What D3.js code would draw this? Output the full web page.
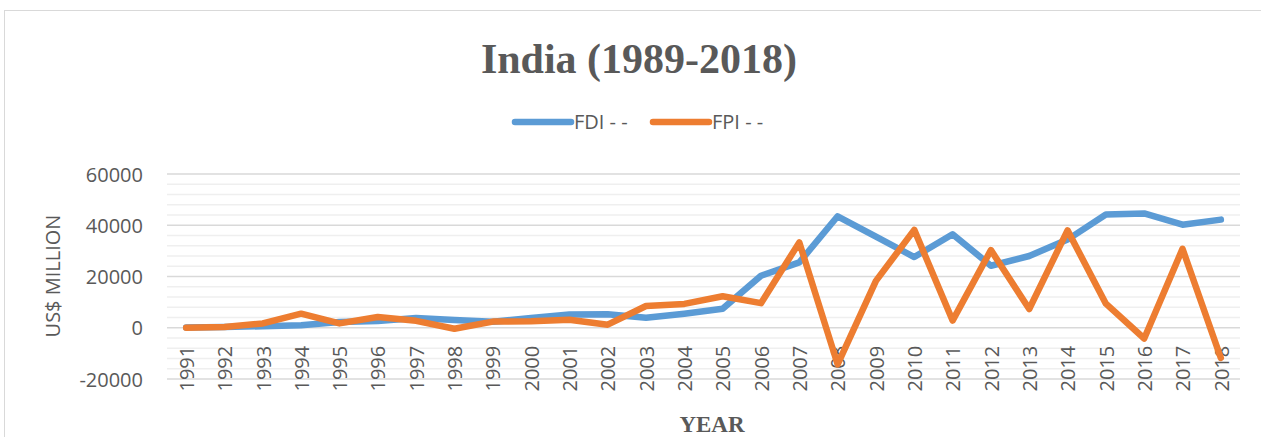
<!DOCTYPE html>
<html>
<head>
<meta charset="utf-8">
<script src="https://cdn.jsdelivr.net/npm/d3@7"></script>
<style>
  body { margin: 0; background: #fff; }
  svg { display: block; }
  .tick text { fill: #595959; font-family: "Open Sans", sans-serif; font-size: 20px; }
</style>
</head>
<body>
<svg id="chart"></svg>
<script>
var width = 1261, height = 437;

// data (US$ million)
var years = [1991, 1992, 1993, 1994, 1995, 1996, 1997, 1998, 1999, 2000,
  2001, 2002, 2003, 2004, 2005, 2006, 2007, 2008, 2009, 2010,
  2011, 2012, 2013, 2014, 2015, 2016, 2017, 2018];
var fdi = [100, 300, 600, 1000, 2200, 2600, 3800, 3000, 2300, 3800,
  5200, 5300, 3900, 5500, 7400, 20300, 25500, 43500, 35600, 27600,
  36500, 24200, 28000, 34400, 44200, 44600, 40200, 42200];
var fpi = [0, 300, 1700, 5500, 1700, 4200, 2700, -400, 2400, 2500,
  3100, 1200, 8500, 9300, 12300, 9600, 33300, -14300, 18300, 38200,
  2800, 30300, 7300, 38000, 9400, -4200, 30800, -11800];
var seriesNames = ["FDI - -", "FPI - -"];
var yTicks = [-20000, 0, 20000, 40000, 60000];

var colors = ["#5b9bd5", "#ed7d31"];

var svg = d3.select("#chart")
  .attr("width", width)
  .attr("height", height);

// chart frame
svg.append("rect")
  .attr("x", 4.5).attr("y", 10.5)
  .attr("width", 1400).attr("height", 600)
  .attr("fill", "#fff")
  .attr("stroke", "#d9d9d9")
  .attr("stroke-width", 1);

var x = d3.scalePoint()
  .domain(years)
  .range([167, 1240])
  .padding(0.5);

var y = d3.scaleLinear()
  .domain([-20000, 60000])
  .range([379, 174]);

// minor gridlines
svg.append("g")
  .selectAll("line")
  .data(d3.range(-20000, 60001, 4000).filter(function(v) { return v % 20000 !== 0; }))
  .enter().append("line")
  .attr("x1", 167).attr("x2", 1240)
  .attr("y1", function(d) { return y(d); })
  .attr("y2", function(d) { return y(d); })
  .attr("stroke", "#efefef")
  .attr("stroke-width", 1.3);

// major gridlines
svg.append("g")
  .selectAll("line")
  .data(yTicks)
  .enter().append("line")
  .attr("x1", 167).attr("x2", 1240)
  .attr("y1", function(d) { return y(d); })
  .attr("y2", function(d) { return y(d); })
  .attr("stroke", "#d9d9d9")
  .attr("stroke-width", 1.3);

// y axis labels
var yAxis = svg.append("g")
  .attr("transform", "translate(167,0)")
  .call(d3.axisLeft(y).tickValues(yTicks).tickSize(0).tickPadding(24)
    .tickFormat(function(d) { return String(d); }));
yAxis.select(".domain").remove();
yAxis.selectAll("text").attr("dy", "0.36em");

// x axis labels (rotated)
var xAxis = svg.append("g")
  .attr("transform", "translate(0," + y(0) + ")")
  .call(d3.axisBottom(x).tickSize(0));
xAxis.select(".domain").remove();
xAxis.selectAll("text")
  .attr("transform", "rotate(-90)")
  .attr("text-anchor", "end")
  .attr("x", -18)
  .attr("y", 0)
  .attr("dy", "0.36em");

// lines
var line = d3.line()
  .x(function(d, i) { return x(years[i]); })
  .y(function(d) { return y(d); });

[fdi, fpi].forEach(function(s, i) {
  svg.append("path")
    .datum(s)
    .attr("fill", "none")
    .attr("stroke", colors[i])
    .attr("stroke-width", 6.5)
    .attr("stroke-linejoin", "round")
    .attr("stroke-linecap", "round")
    .attr("d", line);
});

// title
svg.append("text")
  .attr("x", 639).attr("y", 73)
  .attr("text-anchor", "middle")
  .style("font-family", "'Liberation Serif', 'Times New Roman', serif")
  .style("font-weight", "bold")
  .style("font-size", "42px")
  .style("fill", "#595959")
  .text("India (1989-2018)");

// legend
var legend = svg.append("g");
var legendX = [515, 653];
seriesNames.forEach(function(name, i) {
  legend.append("line")
    .attr("x1", legendX[i]).attr("x2", legendX[i] + 56)
    .attr("y1", 122).attr("y2", 122)
    .attr("stroke", colors[i])
    .attr("stroke-width", 6.5)
    .attr("stroke-linecap", "round");
  legend.append("text")
    .attr("x", legendX[i] + 59).attr("y", 129)
    .style("font-family", "'Open Sans', sans-serif")
    .style("font-size", "20px")
    .style("fill", "#595959")
    .text(name);
});

// axis titles
svg.append("text")
  .attr("transform", "translate(60,276) rotate(-90)")
  .attr("text-anchor", "middle")
  .style("font-family", "'Open Sans', sans-serif")
  .style("font-size", "20px")
  .style("fill", "#595959")
  .text("US$ MILLION");

svg.append("text")
  .attr("x", 712).attr("y", 432)
  .attr("text-anchor", "middle")
  .style("font-family", "'Liberation Serif', 'Times New Roman', serif")
  .style("font-weight", "bold")
  .style("font-size", "23px")
  .style("fill", "#595959")
  .text("YEAR");
</script>
</body>
</html>
